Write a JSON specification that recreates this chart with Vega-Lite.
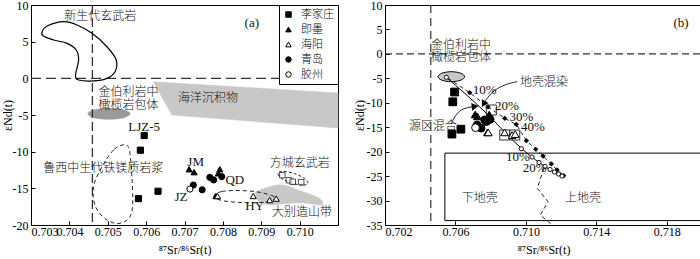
{
  "$schema": "https://vega.github.io/schema/vega-lite/v6.json",
  "background": "white",
  "padding": {"left": 0, "top": -2, "right": 0, "bottom": 0},
  "spacing": 12,
  "datasets": {
    "pts": [
      {"loc": "李家庄", "x": 0.70595, "y": -7.8},
      {"loc": "李家庄", "x": 0.70585, "y": -9.8},
      {"loc": "李家庄", "x": 0.70631, "y": -15.4},
      {"loc": "李家庄", "x": 0.7058, "y": -16.4},
      {"loc": "即墨", "x": 0.70712, "y": -12.4},
      {"loc": "即墨", "x": 0.70725, "y": -12.8},
      {"loc": "即墨", "x": 0.70792, "y": -12.4},
      {"loc": "即墨", "x": 0.70788, "y": -12.95},
      {"loc": "即墨", "x": 0.70782, "y": -16.05},
      {"loc": "海阳", "x": 0.70786, "y": -16.05},
      {"loc": "海阳", "x": 0.70879, "y": -16.05},
      {"loc": "海阳", "x": 0.70922, "y": -16.6},
      {"loc": "海阳", "x": 0.70939, "y": -16.4},
      {"loc": "青岛", "x": 0.70723, "y": -14.55},
      {"loc": "青岛", "x": 0.70746, "y": -15.2},
      {"loc": "青岛", "x": 0.70766, "y": -13.5},
      {"loc": "青岛", "x": 0.70776, "y": -13.85},
      {"loc": "青岛", "x": 0.70797, "y": -13.4},
      {"loc": "胶州", "x": 0.70714, "y": -15.1}
    ],
    "fcA": [
      {"x": 0.70955, "y": -13.2},
      {"x": 0.70972, "y": -13.9},
      {"x": 0.70982, "y": -14.1},
      {"x": 0.71004, "y": -14.15}
    ],
    "shapesA": [
      {"id": "ms", "o": 1, "x": 0.70619, "y": -0.46},
      {"id": "ms", "o": 2, "x": 0.711, "y": -2.0},
      {"id": "ms", "o": 3, "x": 0.711, "y": -6.77},
      {"id": "ms", "o": 4, "x": 0.70667, "y": -5.0},
      {"id": "db", "o": 1, "x": 0.708875, "y": -15.46},
      {"id": "db", "o": 2, "x": 0.709221, "y": -14.78},
      {"id": "db", "o": 3, "x": 0.709566, "y": -14.55},
      {"id": "db", "o": 4, "x": 0.710086, "y": -15.46},
      {"id": "db", "o": 5, "x": 0.710434, "y": -16.14},
      {"id": "db", "o": 6, "x": 0.710605, "y": -16.82},
      {"id": "db", "o": 7, "x": 0.710564, "y": -17.27},
      {"id": "db", "o": 8, "x": 0.710345, "y": -17.14},
      {"id": "db", "o": 9, "x": 0.70999, "y": -16.96},
      {"id": "db", "o": 10, "x": 0.709566, "y": -17.14},
      {"id": "db", "o": 11, "x": 0.709221, "y": -17.27},
      {"id": "db", "o": 12, "x": 0.708961, "y": -16.82},
      {"id": "db", "o": 13, "x": 0.708857, "y": -16.14},
      {"id": "kb", "o": 1, "x": 0.705584, "y": -4.84},
      {"id": "kb", "o": 2, "x": 0.705423, "y": -5.37},
      {"id": "kb", "o": 3, "x": 0.705031, "y": -5.59},
      {"id": "kb", "o": 4, "x": 0.704639, "y": -5.37},
      {"id": "kb", "o": 5, "x": 0.704478, "y": -4.84},
      {"id": "kb", "o": 6, "x": 0.704639, "y": -4.31},
      {"id": "kb", "o": 7, "x": 0.705031, "y": -4.09},
      {"id": "kb", "o": 8, "x": 0.705423, "y": -4.31},
      {"id": "cz", "o": 1, "x": 0.70329, "y": 6.36},
      {"id": "cz", "o": 2, "x": 0.70342, "y": 7.14},
      {"id": "cz", "o": 3, "x": 0.70385, "y": 7.72},
      {"id": "cz", "o": 4, "x": 0.7042, "y": 7.27},
      {"id": "cz", "o": 5, "x": 0.70459, "y": 6.14},
      {"id": "cz", "o": 6, "x": 0.70498, "y": 4.31},
      {"id": "cz", "o": 7, "x": 0.70522, "y": 2.5},
      {"id": "cz", "o": 8, "x": 0.70519, "y": 0.91},
      {"id": "cz", "o": 9, "x": 0.70498, "y": 0.0},
      {"id": "cz", "o": 10, "x": 0.70463, "y": -0.36},
      {"id": "cz", "o": 11, "x": 0.70424, "y": -0.23},
      {"id": "cz", "o": 12, "x": 0.70416, "y": 0.45},
      {"id": "cz", "o": 13, "x": 0.70424, "y": 2.5},
      {"id": "cz", "o": 14, "x": 0.70418, "y": 3.86},
      {"id": "cz", "o": 15, "x": 0.70394, "y": 4.77},
      {"id": "cz", "o": 16, "x": 0.70359, "y": 5.23},
      {"id": "cz", "o": 17, "x": 0.70332, "y": 5.77},
      {"id": "lx", "o": 1, "x": 0.70541, "y": -9.05},
      {"id": "lx", "o": 2, "x": 0.70515, "y": -9.77},
      {"id": "lx", "o": 3, "x": 0.70485, "y": -12.05},
      {"id": "lx", "o": 4, "x": 0.70463, "y": -14.78},
      {"id": "lx", "o": 5, "x": 0.70468, "y": -17.5},
      {"id": "lx", "o": 6, "x": 0.70498, "y": -19.32},
      {"id": "lx", "o": 7, "x": 0.70532, "y": -19.77},
      {"id": "lx", "o": 8, "x": 0.70558, "y": -18.87},
      {"id": "lx", "o": 9, "x": 0.70565, "y": -17.05},
      {"id": "lx", "o": 10, "x": 0.70563, "y": -13.41},
      {"id": "lx", "o": 11, "x": 0.70558, "y": -10.22},
      {"id": "lx", "o": 12, "x": 0.70553, "y": -9.3},
      {"id": "fc", "o": 1, "x": 0.710216, "y": -14.31},
      {"id": "fc", "o": 2, "x": 0.710073, "y": -14.57},
      {"id": "fc", "o": 3, "x": 0.709784, "y": -14.27},
      {"id": "fc", "o": 4, "x": 0.709522, "y": -13.61},
      {"id": "fc", "o": 5, "x": 0.709436, "y": -12.95},
      {"id": "fc", "o": 6, "x": 0.709579, "y": -12.69},
      {"id": "fc", "o": 7, "x": 0.709868, "y": -12.99},
      {"id": "fc", "o": 8, "x": 0.71013, "y": -13.66},
      {"id": "hy", "o": 1, "x": 0.707766, "y": -16.05},
      {"id": "hy", "o": 2, "x": 0.707974, "y": -15.43},
      {"id": "hy", "o": 3, "x": 0.708442, "y": -15.3},
      {"id": "hy", "o": 4, "x": 0.708909, "y": -15.5},
      {"id": "hy", "o": 5, "x": 0.709273, "y": -15.98},
      {"id": "hy", "o": 6, "x": 0.709377, "y": -16.46},
      {"id": "hy", "o": 7, "x": 0.709013, "y": -16.93},
      {"id": "hy", "o": 8, "x": 0.708442, "y": -16.93},
      {"id": "hy", "o": 9, "x": 0.707974, "y": -16.66}
    ],
    "textA_cn": [
      {"t": "新生代玄武岩", "x": 0.704805, "y": 8.5},
      {"t": "海洋沉积物", "x": 0.70761, "y": -2.72},
      {"t": "鲁西中生代铁镁质岩浆", "x": 0.704883, "y": -12.27},
      {"t": "方城玄武岩", "x": 0.71, "y": -11.59},
      {"t": "大别造山带", "x": 0.710065, "y": -18.19}
    ],
    "textA_cnl": [
      {"t": "金伯利岩中", "x": 0.70476, "y": -1.86},
      {"t": "橄榄岩包体", "x": 0.70476, "y": -3.64}
    ],
    "textA_en": [
      {"t": "(a)", "x": 0.708753, "y": 7.55},
      {"t": "LJZ-5", "x": 0.705948, "y": -6.6},
      {"t": "JM", "x": 0.707291, "y": -11.37},
      {"t": "QD", "x": 0.708312, "y": -13.86},
      {"t": "JZ", "x": 0.706909, "y": -16.22},
      {"t": "HY", "x": 0.708831, "y": -17.41}
    ],
    "fcB": [
      {"x": 0.708038, "y": -11.48},
      {"x": 0.708799, "y": -16.59},
      {"x": 0.709367, "y": -16.59}
    ],
    "shapesB": [
      {"id": "kb", "o": 1, "x": 0.706521, "y": -4.67},
      {"id": "kb", "o": 2, "x": 0.706298, "y": -5.38},
      {"id": "kb", "o": 3, "x": 0.705766, "y": -5.69},
      {"id": "kb", "o": 4, "x": 0.705232, "y": -5.38},
      {"id": "kb", "o": 5, "x": 0.70501, "y": -4.67},
      {"id": "kb", "o": 6, "x": 0.705232, "y": -3.95},
      {"id": "kb", "o": 7, "x": 0.705766, "y": -3.64},
      {"id": "kb", "o": 8, "x": 0.706298, "y": -3.95},
      {"id": "afc", "o": 1, "x": 0.705578, "y": -4.99},
      {"id": "afc", "o": 2, "x": 0.706811, "y": -7.94},
      {"id": "afc", "o": 3, "x": 0.70785, "y": -10.86},
      {"id": "afc", "o": 4, "x": 0.708799, "y": -13.17},
      {"id": "afc", "o": 5, "x": 0.709458, "y": -14.44},
      {"id": "afc", "o": 6, "x": 0.710026, "y": -17.76},
      {"id": "afc", "o": 7, "x": 0.71056, "y": -19.52},
      {"id": "afc", "o": 8, "x": 0.710974, "y": -20.89},
      {"id": "afc", "o": 9, "x": 0.711446, "y": -22.52},
      {"id": "afc", "o": 10, "x": 0.71177, "y": -23.75},
      {"id": "afc", "o": 11, "x": 0.71215, "y": -24.91},
      {"id": "mix", "o": 1, "x": 0.705482, "y": -4.79},
      {"id": "mix", "o": 2, "x": 0.707566, "y": -11.48},
      {"id": "mix", "o": 3, "x": 0.709742, "y": -19.31},
      {"id": "mix", "o": 4, "x": 0.710787, "y": -22.32},
      {"id": "mix", "o": 5, "x": 0.71211, "y": -25.12},
      {"id": "wv", "o": 1, "x": 0.711014, "y": -23.4},
      {"id": "wv", "o": 2, "x": 0.710651, "y": -27.49},
      {"id": "wv", "o": 3, "x": 0.711258, "y": -30.23},
      {"id": "wv", "o": 4, "x": 0.710821, "y": -32.95},
      {"id": "wv", "o": 5, "x": 0.711486, "y": -35.0},
      {"id": "ar1", "o": 1, "x": 0.709498, "y": -5.69},
      {"id": "ar1", "o": 2, "x": 0.708873, "y": -6.16},
      {"id": "ar1", "o": 3, "x": 0.708191, "y": -7.39},
      {"id": "ar1", "o": 4, "x": 0.707794, "y": -9.02},
      {"id": "ar1", "o": 5, "x": 0.707595, "y": -10.25},
      {"id": "ar2", "o": 1, "x": 0.705749, "y": -14.34},
      {"id": "ar2", "o": 2, "x": 0.706033, "y": -12.3},
      {"id": "ar2", "o": 3, "x": 0.70643, "y": -11.07},
      {"id": "ar2", "o": 4, "x": 0.707112, "y": -10.76}
    ],
    "afcPts": [
      {"x": 0.706811, "y": -7.94},
      {"x": 0.70785, "y": -10.86},
      {"x": 0.708799, "y": -13.17},
      {"x": 0.709458, "y": -14.44},
      {"x": 0.710026, "y": -17.76},
      {"x": 0.71056, "y": -19.52},
      {"x": 0.710974, "y": -20.89},
      {"x": 0.711446, "y": -22.52},
      {"x": 0.71177, "y": -23.75},
      {"x": 0.71215, "y": -24.91}
    ],
    "mixPts": [
      {"x": 0.705482, "y": -4.79},
      {"x": 0.709742, "y": -19.41},
      {"x": 0.71035, "y": -21.09},
      {"x": 0.710747, "y": -22.21},
      {"x": 0.711088, "y": -23.03},
      {"x": 0.711372, "y": -23.65},
      {"x": 0.711628, "y": -24.16},
      {"x": 0.711855, "y": -24.57},
      {"x": 0.712054, "y": -24.98}
    ],
    "headsB": [
      {"id": "ar1", "x": 0.707595, "y": -10.25},
      {"id": "ar2", "x": 0.707112, "y": -10.76}
    ],
    "textB_cn": [
      {"t": "下地壳", "x": 0.707379, "y": -29.55},
      {"t": "上地壳", "x": 0.713246, "y": -29.55},
      {"t": "地壳混染", "x": 0.711031, "y": -5.69},
      {"t": "源区混合", "x": 0.704726, "y": -14.75}
    ],
    "textB_cnl": [
      {"t": "金伯利岩中", "x": 0.704613, "y": 1.82},
      {"t": "橄榄岩包体", "x": 0.704613, "y": -0.7}
    ],
    "textB_en": [
      {"t": "(b)", "x": 0.718813, "y": 6.32},
      {"t": "10%", "x": 0.707663, "y": -7.39},
      {"t": "20%", "x": 0.70893, "y": -10.66},
      {"t": "30%", "x": 0.709742, "y": -12.85},
      {"t": "40%", "x": 0.710406, "y": -15.02},
      {"t": "10%", "x": 0.709554, "y": -21.15},
      {"t": "20%", "x": 0.710503, "y": -23.4}
    ]
  },
  "hconcat": [
    {
      "width": 307,
      "height": 220,
      "encoding": {
        "x": {"field": "x", "type": "quantitative",
          "scale": {"domain": [0.703, 0.711], "nice": false, "zero": false},
          "axis": {"values": [0.703, 0.704, 0.705, 0.706, 0.707, 0.708, 0.709, 0.71], "format": ".3f", "title": "⁸⁷Sr/⁸⁶Sr(t)", "titleY": 24, "titleBaseline": "middle", "labelPadding": 5}},
        "y": {"field": "y", "type": "quantitative",
          "scale": {"domain": [-20, 10], "nice": false, "zero": false},
          "axis": {"values": [10, 5, 0, -5, -10, -15, -20], "labelExpr": "datum.value + ''", "title": "εNd(t)", "titleX": -24, "titleBaseline": "middle"}}
      },
      "layer": [
        {"data": {"name": "shapesA"}, "transform": [{"filter": "datum.id === 'ms'"}],
          "mark": {"type": "line", "interpolate": "linear-closed", "fill": "#c8c8c8", "stroke": "#c8c8c8", "strokeWidth": 0.5},
          "encoding": {"order": {"field": "o", "type": "quantitative"}}},
        {"data": {"name": "shapesA"}, "transform": [{"filter": "datum.id === 'db'"}],
          "mark": {"type": "line", "interpolate": "cardinal-closed", "fill": "#c8c8c8", "stroke": "#c8c8c8", "strokeWidth": 0.5},
          "encoding": {"order": {"field": "o", "type": "quantitative"}}},
        {"data": {"name": "shapesA"}, "transform": [{"filter": "datum.id === 'kb'"}],
          "mark": {"type": "line", "interpolate": "cardinal-closed", "fill": "#9a9a9a", "stroke": "#9a9a9a", "strokeWidth": 0.5},
          "encoding": {"order": {"field": "o", "type": "quantitative"}}},
        {"data": {"values": [{"x": 0.7046, "y": 10, "y2": -20}]},
          "mark": {"type": "rule", "color": "#333", "strokeWidth": 1.3, "strokeDash": [9, 4]},
          "encoding": {"y2": {"field": "y2"}}},
        {"data": {"values": [{"x": 0.703, "x2": 0.711, "y": 0}]},
          "mark": {"type": "rule", "color": "#333", "strokeWidth": 1.3, "strokeDash": [10, 5]},
          "encoding": {"x2": {"field": "x2"}}},
        {"data": {"name": "shapesA"}, "transform": [{"filter": "datum.id === 'cz'"}],
          "mark": {"type": "line", "interpolate": "cardinal-closed", "color": "black", "strokeWidth": 1.2},
          "encoding": {"order": {"field": "o", "type": "quantitative"}}},
        {"data": {"name": "shapesA"}, "transform": [{"filter": "datum.id === 'lx'"}],
          "mark": {"type": "line", "interpolate": "cardinal-closed", "color": "#222", "strokeWidth": 1, "strokeDash": [4, 3]},
          "encoding": {"order": {"field": "o", "type": "quantitative"}}},
        {"data": {"name": "shapesA"}, "transform": [{"filter": "datum.id === 'fc'"}],
          "mark": {"type": "line", "interpolate": "cardinal-closed", "color": "#222", "strokeWidth": 1, "strokeDash": [3, 2]},
          "encoding": {"order": {"field": "o", "type": "quantitative"}}},
        {"data": {"name": "shapesA"}, "transform": [{"filter": "datum.id === 'hy'"}],
          "mark": {"type": "line", "interpolate": "cardinal-closed", "color": "#222", "strokeWidth": 1, "strokeDash": [4, 3]},
          "encoding": {"order": {"field": "o", "type": "quantitative"}}},
        {"data": {"name": "fcA"},
          "mark": {"type": "point", "shape": "square", "filled": true, "fill": "white", "stroke": "black", "strokeWidth": 1, "size": 30}},
        {"data": {"name": "pts"},
          "mark": {"type": "point", "filled": true, "strokeWidth": 1, "size": 38, "opacity": 1},
          "encoding": {
            "shape": {"field": "loc", "type": "nominal",
              "scale": {"domain": ["李家庄", "即墨", "海阳", "青岛", "胶州"], "range": ["square", "triangle-up", "triangle-up", "circle", "circle"]},
              "legend": {"title": null, "orient": "top-right", "offset": 0, "padding": 4, "strokeColor": "black", "fillColor": "white", "labelFont": "Noto Sans CJK SC", "labelFontSize": 11, "labelFontWeight": 300, "labelColor": "black", "symbolSize": 30, "symbolStrokeWidth": 1, "rowPadding": 3, "labelOffset": 7}},
            "fill": {"field": "loc", "type": "nominal",
              "scale": {"domain": ["李家庄", "即墨", "海阳", "青岛", "胶州"], "range": ["black", "black", "white", "black", "white"]},
              "legend": {"title": null, "orient": "top-right", "offset": 0, "padding": 4, "strokeColor": "black", "fillColor": "white", "labelFont": "Noto Sans CJK SC", "labelFontSize": 11, "labelFontWeight": 300, "labelColor": "black", "symbolSize": 30, "symbolStrokeWidth": 1, "rowPadding": 3, "labelOffset": 7}},
            "stroke": {"field": "loc", "type": "nominal",
              "scale": {"domain": ["李家庄", "即墨", "海阳", "青岛", "胶州"], "range": ["black", "black", "black", "black", "black"]},
              "legend": {"title": null, "orient": "top-right", "offset": 0, "padding": 4, "strokeColor": "black", "fillColor": "white", "labelFont": "Noto Sans CJK SC", "labelFontSize": 11, "labelFontWeight": 300, "labelColor": "black", "symbolSize": 30, "symbolStrokeWidth": 1, "rowPadding": 3, "labelOffset": 7}}
          }},
        {"data": {"name": "textA_cn"},
          "mark": {"type": "text", "font": "Noto Sans CJK SC", "fontSize": 12, "fontWeight": 300, "color": "#111", "align": "center", "baseline": "middle"},
          "encoding": {"text": {"field": "t"}}},
        {"data": {"name": "textA_cnl"},
          "mark": {"type": "text", "font": "Noto Sans CJK SC", "fontSize": 12, "fontWeight": 300, "color": "#111", "align": "left", "baseline": "middle"},
          "encoding": {"text": {"field": "t"}}},
        {"data": {"name": "textA_en"},
          "mark": {"type": "text", "font": "Liberation Serif", "fontSize": 13, "color": "#111", "align": "center", "baseline": "middle"},
          "encoding": {"text": {"field": "t"}}}
      ]
    },
    {
      "width": 317,
      "height": 220,
      "encoding": {
        "x": {"field": "x", "type": "quantitative",
          "scale": {"domain": [0.702, 0.72], "nice": false, "zero": false},
          "axis": {"values": [0.702, 0.706, 0.71, 0.714, 0.718], "format": ".3f", "title": "⁸⁷Sr/⁸⁶Sr(t)", "titleY": 24, "titleBaseline": "middle", "labelPadding": 5}},
        "y": {"field": "y", "type": "quantitative",
          "scale": {"domain": [-35, 10], "nice": false, "zero": false},
          "axis": {"values": [10, 5, 0, -5, -10, -15, -20, -25, -30, -35], "labelExpr": "datum.value + ''", "title": "εNd(t)", "titleX": -26, "titleBaseline": "middle"}}
      },
      "layer": [
        {"data": {"values": [{"x": 0.7054, "x2": 0.72, "y": -20.3, "y2": -34.1}]},
          "mark": {"type": "rect", "fill": "transparent", "stroke": "black", "strokeWidth": 1},
          "encoding": {"x2": {"field": "x2"}, "y2": {"field": "y2"}}},
        {"data": {"values": [{"x": 0.7046, "y": 10, "y2": -35}]},
          "mark": {"type": "rule", "color": "#333", "strokeWidth": 1.2, "strokeDash": [8, 5]},
          "encoding": {"y2": {"field": "y2"}}},
        {"data": {"values": [{"x": 0.702, "x2": 0.72, "y": 0}]},
          "mark": {"type": "rule", "color": "#333", "strokeWidth": 1.2, "strokeDash": [7, 4]},
          "encoding": {"x2": {"field": "x2"}}},
        {"data": {"name": "shapesB"}, "transform": [{"filter": "datum.id === 'kb'"}],
          "mark": {"type": "line", "interpolate": "cardinal-closed", "fill": "#c8c8c8", "stroke": "black", "strokeWidth": 1},
          "encoding": {"order": {"field": "o", "type": "quantitative"}}},
        {"data": {"name": "shapesB"}, "transform": [{"filter": "datum.id === 'afc'"}],
          "mark": {"type": "line", "color": "#222", "strokeWidth": 1, "strokeDash": [4, 3]},
          "encoding": {"order": {"field": "o", "type": "quantitative"}}},
        {"data": {"name": "shapesB"}, "transform": [{"filter": "datum.id === 'mix'"}],
          "mark": {"type": "line", "interpolate": "monotone", "color": "black", "strokeWidth": 1},
          "encoding": {"order": {"field": "o", "type": "quantitative"}}},
        {"data": {"name": "shapesB"}, "transform": [{"filter": "datum.id === 'wv'"}],
          "mark": {"type": "line", "color": "#222", "strokeWidth": 1, "strokeDash": [4, 3]},
          "encoding": {"order": {"field": "o", "type": "quantitative"}}},
        {"data": {"name": "shapesB"}, "transform": [{"filter": "datum.id === 'ar1'"}],
          "mark": {"type": "line", "interpolate": "basis", "color": "#222", "strokeWidth": 1},
          "encoding": {"order": {"field": "o", "type": "quantitative"}}},
        {"data": {"name": "shapesB"}, "transform": [{"filter": "datum.id === 'ar2'"}],
          "mark": {"type": "line", "interpolate": "basis", "color": "#222", "strokeWidth": 1},
          "encoding": {"order": {"field": "o", "type": "quantitative"}}},
        {"data": {"name": "headsB"}, "transform": [{"filter": "datum.id === 'ar1'"}],
          "mark": {"type": "point", "shape": "triangle-down", "angle": 30, "filled": true, "color": "black", "size": 60, "opacity": 1}},
        {"data": {"name": "headsB"}, "transform": [{"filter": "datum.id === 'ar2'"}],
          "mark": {"type": "point", "shape": "triangle-right", "angle": -7, "filled": true, "color": "black", "size": 60, "opacity": 1}},
        {"data": {"name": "afcPts"},
          "mark": {"type": "point", "shape": "square", "angle": 40, "filled": true, "color": "black", "size": 14, "opacity": 1}},
        {"data": {"name": "mixPts"},
          "mark": {"type": "point", "shape": "circle", "filled": true, "fill": "white", "stroke": "black", "strokeWidth": 0.9, "size": 18, "opacity": 1}},
        {"data": {"name": "fcB"},
          "mark": {"type": "point", "shape": "square", "filled": true, "fill": "white", "fillOpacity": 0, "stroke": "#333", "strokeWidth": 1, "size": 100}},
        {"data": {"name": "pts"},
          "mark": {"type": "point", "filled": true, "stroke": "black", "strokeWidth": 1, "size": 60, "opacity": 1},
          "encoding": {
            "shape": {"field": "loc", "type": "nominal",
              "scale": {"domain": ["李家庄", "即墨", "海阳", "青岛", "胶州"], "range": ["square", "triangle-up", "triangle-up", "circle", "circle"]},
              "legend": null},
            "fill": {"field": "loc", "type": "nominal",
              "scale": {"domain": ["李家庄", "即墨", "海阳", "青岛", "胶州"], "range": ["black", "black", "white", "black", "white"]},
              "legend": null}
          }},
        {"data": {"name": "textB_cn"},
          "mark": {"type": "text", "font": "Noto Sans CJK SC", "fontSize": 12, "fontWeight": 300, "color": "#111", "align": "center", "baseline": "middle"},
          "encoding": {"text": {"field": "t"}}},
        {"data": {"name": "textB_cnl"},
          "mark": {"type": "text", "font": "Noto Sans CJK SC", "fontSize": 12, "fontWeight": 300, "color": "#111", "align": "left", "baseline": "middle"},
          "encoding": {"text": {"field": "t"}}},
        {"data": {"name": "textB_en"},
          "mark": {"type": "text", "font": "Liberation Serif", "fontSize": 13, "color": "#111", "align": "center", "baseline": "middle"},
          "encoding": {"text": {"field": "t"}}}
      ]
    }
  ],
  "resolve": {
    "scale": {"x": "independent", "y": "independent", "shape": "independent", "fill": "independent", "stroke": "independent"},
    "legend": {"shape": "independent", "fill": "independent", "stroke": "independent"}
  },
  "config": {
    "view": {"stroke": "black", "strokeWidth": 1},
    "axis": {"grid": false, "labelOverlap": false, "domainColor": "black", "tickColor": "black", "tickSize": -4, "labelPadding": 7, "labelFont": "Liberation Serif", "labelFontSize": 12, "labelColor": "black", "titleFont": "Liberation Serif", "titleFontSize": 12, "titleFontWeight": "normal", "titleColor": "black"}
  }
}
